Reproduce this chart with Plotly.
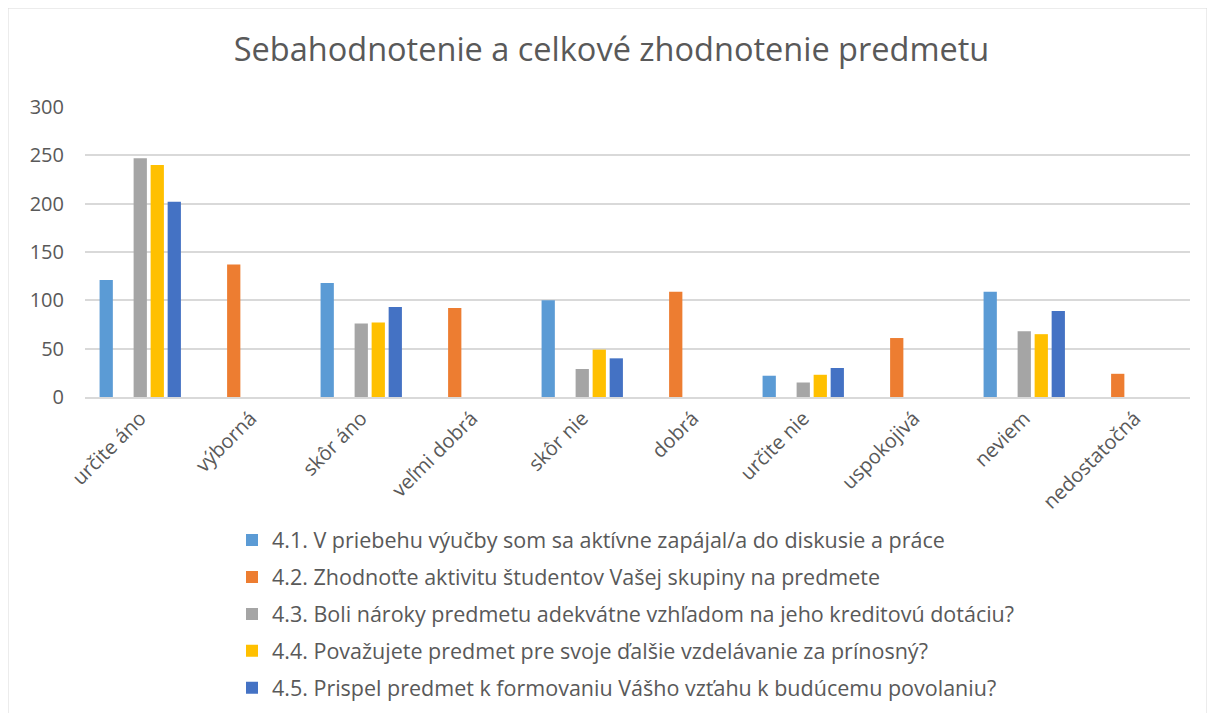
import plotly.graph_objects as go

categories = ["určite áno", "výborná", "skôr áno", "veľmi dobrá", "skôr nie",
              "dobrá", "určite nie", "uspokojivá", "neviem", "nedostatočná"]

series_names = [
    "4.1. V priebehu výučby som sa aktívne zapájal/a do diskusie a práce",
    "4.2. Zhodnoťte aktivitu študentov Vašej skupiny na predmete",
    "4.3. Boli nároky predmetu adekvátne vzhľadom na jeho kreditovú dotáciu?",
    "4.4. Považujete predmet pre svoje ďalšie vzdelávanie za prínosný?",
    "4.5. Prispel predmet k formovaniu Vášho vzťahu k budúcemu povolaniu?",
]

s41 = [121, None, 118, None, 100, None, 22, None, 109, None]
s42 = [None, 137, None, 92, None, 109, None, 61, None, 24]
s43 = [247, None, 76, None, 29, None, 15, None, 68, None]
s44 = [240, None, 77, None, 49, None, 23, None, 65, None]
s45 = [202, None, 93, None, 40, None, 30, None, 89, None]

colors = ["#5B9BD5", "#ED7D31", "#A5A5A5", "#FFC000", "#4472C4"]

FONT = "Open Sans"
TXT = "#595959"

# figure is placed at an 8px offset by the page body margin
W, H = 1207, 705
L, R, T, B = 77, 25, 99, 316
PW, PH = W - L - R, H - T - B

fig = go.Figure()
for i, (name, vals) in enumerate(zip(series_names, [s41, s42, s43, s44, s45])):
    fig.add_trace(go.Bar(x=categories, y=vals, name=name, marker_color=colors[i],
                         marker_line_width=0, legendgroup=f"g{i}"))

fig.update_layout(
    barmode="group",
    bargap=0.23,
    bargroupgap=0.22,
    width=W, height=H,
    paper_bgcolor="white", plot_bgcolor="white",
    margin=dict(l=L, r=R, t=T, b=B, autoexpand=False),
    title=dict(text="Sebahodnotenie a celkové zhodnotenie predmetu",
               x=0.5, xanchor="center", y=1 - 42 / H, yanchor="middle",
               font=dict(family=FONT, size=32.5, color=TXT)),
    font=dict(family=FONT, color=TXT),
    yaxis=dict(range=[0, 300], dtick=50, showgrid=True, gridcolor="#D9D9D9",
               gridwidth=1.5, zeroline=False, showline=False, ticks="",
               tickfont=dict(size=20, color=TXT), ticklabelstandoff=20),
    xaxis=dict(showline=True, linecolor="#D9D9D9", linewidth=1.5, ticks="",
               tickangle=-45, tickfont=dict(size=20, color=TXT)),
    legend=dict(orientation="v", x=(224 - L) / PW, xanchor="left",
                y=(T + PH - 606) / PH, yanchor="middle",
                font=dict(size=21.5, color=TXT), tracegroupgap=6,
                itemwidth=30, bgcolor="rgba(0,0,0,0)"),
    showlegend=True,
)

# outer chart border
fig.add_shape(type="rect", xref="paper", yref="paper",
              x0=(0 - L) / PW, x1=(1199 - L) / PW,
              y0=(T + PH - 720) / PH, y1=(T + PH - 0) / PH,
              line=dict(color="#D9D9D9", width=1), fillcolor="rgba(0,0,0,0)", layer="below")

fig.write_html("out.html")
